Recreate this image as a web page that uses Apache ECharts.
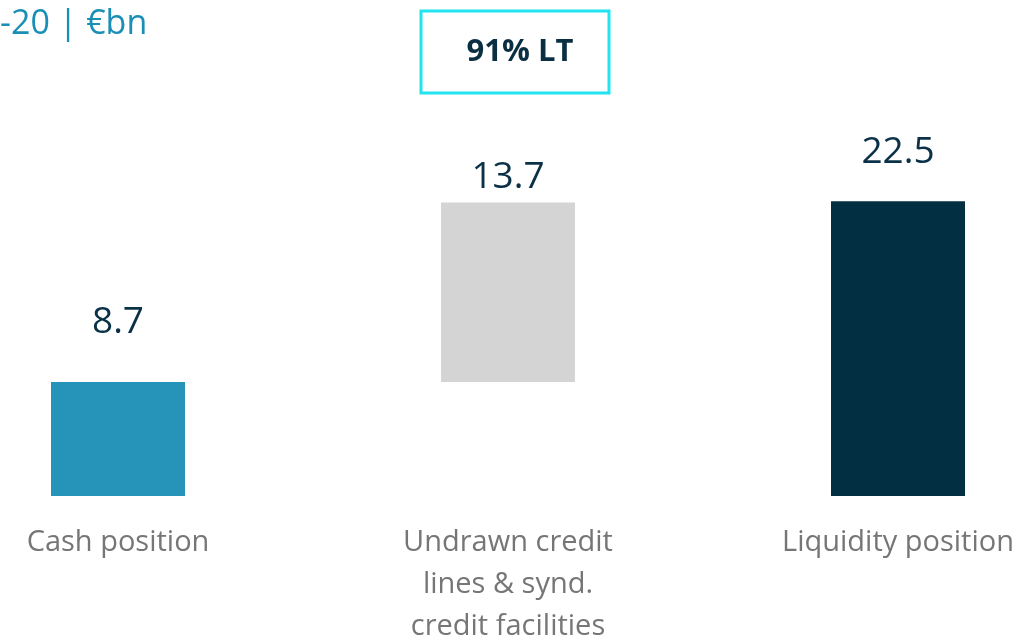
<!DOCTYPE html>
<html>
<head>
<meta charset="utf-8">
<script src="https://cdn.jsdelivr.net/npm/echarts@6/dist/echarts.min.js"></script>
<style>html,body{margin:0;padding:0;background:#fff}#c{width:1019px;height:641px}</style>
</head>
<body>
<div id="c"></div>
<script>
const categories = ['Cash position', 'Undrawn credit\nlines & synd.\ncredit facilities', 'Liquidity position'];
const baseValues = [0, 8.7, 0];
const barValues = [8.7, 13.7, 22.5];
const barColors = ['#2693b8', '#d4d4d4', '#032f42'];
const labelGaps = [41, 7, 30];
const titleText = '-20 | €bn';
const boxText = '91% LT';

const chart = echarts.init(document.getElementById('c'));
chart.setOption({
  animation: false,
  title: {
    text: titleText, left: -5, top: 2,
    textStyle: { color: '#1a8fb5', fontSize: 34, fontWeight: 'normal', fontFamily: 'Open Sans' }
  },
  grid: { left: -77, right: -74, top: 103, bottom: 145, containLabel: false, outerBoundsMode: 'none' },
  xAxis: {
    type: 'category', data: categories,
    axisLine: { show: false }, axisTick: { show: false },
    axisLabel: { color: '#767676', fontSize: 29, fontFamily: 'Open Sans', lineHeight: 42, margin: 26, interval: 0 }
  },
  yAxis: { type: 'value', min: 0, max: 30, show: false, splitLine: { show: false } },
  series: [
    { type: 'bar', stack: 'w', data: baseValues, barWidth: 134, itemStyle: { color: 'transparent' }, silent: true },
    {
      type: 'bar', stack: 'w', barWidth: 134,
      data: barValues.map((v, i) => ({
        value: v,
        itemStyle: { color: barColors[i] },
        label: { show: true, position: 'top', distance: labelGaps[i], formatter: String(v), color: '#0a3147', fontSize: 37, fontFamily: 'Open Sans' }
      }))
    }
  ],
  graphic: [
    { type: 'rect', shape: { x: 421, y: 11, width: 188, height: 82 }, style: { fill: '#fff', stroke: '#22e3f0', lineWidth: 3 } },
    { type: 'text', x: 520, y: 52, style: { text: boxText, fill: '#0b2f42', font: 'bold 31px "Open Sans"', align: 'center', verticalAlign: 'middle' } }
  ]
});
</script>
</body>
</html>
